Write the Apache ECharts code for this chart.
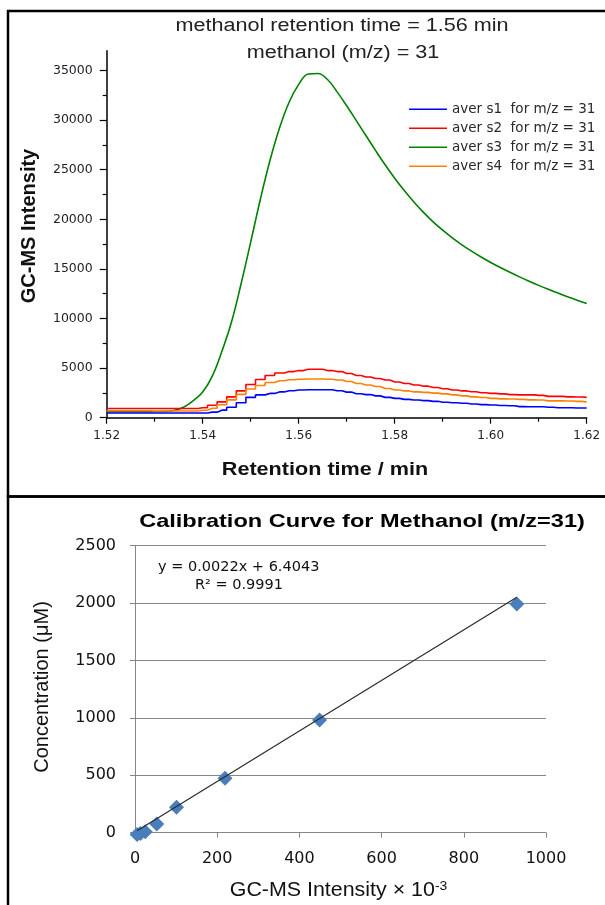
<!DOCTYPE html>
<html>
<head>
<meta charset="utf-8">
<title>Methanol GC-MS</title>
<script src="https://cdn.jsdelivr.net/npm/echarts@6/dist/echarts.min.js"></script>
<style>
  html, body { margin: 0; padding: 0; background: #fff; }
  #chart { width: 605px; height: 905px; }
</style>
</head>
<body>
<div id="chart"></div>
<script>
// ---- chromatogram (m/z = 31) ----
const retentionTimes = [1.520, 1.522, 1.524, 1.526, 1.528, 1.530, 1.532, 1.534, 1.536, 1.538,
  1.540, 1.542, 1.544, 1.546, 1.548, 1.550, 1.552, 1.554, 1.556, 1.558,
  1.560, 1.562, 1.564, 1.566, 1.568, 1.570, 1.572, 1.574, 1.576, 1.578,
  1.580, 1.582, 1.584, 1.586, 1.588, 1.590, 1.592, 1.594, 1.596, 1.598,
  1.600, 1.602, 1.604, 1.606, 1.608, 1.610, 1.612, 1.614, 1.616, 1.618, 1.620];

const averS1 = [480, 480, 480, 480, 480, 480, 480, 480, 480, 480,
  480, 560, 760, 1050, 1500, 2050, 2300, 2450, 2600, 2720,
  2800, 2820, 2820, 2820, 2720, 2580, 2420, 2330, 2200, 2050,
  1950, 1850, 1780, 1720, 1650, 1560, 1500, 1450, 1380, 1320,
  1280, 1230, 1200, 1120, 1110, 1100, 1050, 1000, 1000, 980, 980];

const averS2 = [920, 920, 920, 920, 920, 920, 920, 920, 920, 920,
  1000, 1250, 1600, 2100, 2700, 3350, 3850, 4250, 4500, 4650,
  4750, 4880, 4880, 4750, 4650, 4450, 4260, 4100, 3950, 3800,
  3600, 3450, 3300, 3180, 3050, 2920, 2800, 2700, 2620, 2520,
  2450, 2400, 2330, 2300, 2300, 2250, 2150, 2150, 2100, 2080, 2050];

const averS3 = [600, 600, 600, 600, 600, 620, 640, 720, 1050, 1700,
  2600, 4200, 6700, 9650, 13500, 17700, 22000, 25900, 29200, 31800,
  33600, 34650, 34700, 34100, 32850, 31450, 29950, 28450, 26950, 25500,
  24150, 22900, 21750, 20700, 19750, 18900, 18130, 17430, 16790, 16200,
  15650, 15140, 14660, 14200, 13760, 13340, 12940, 12560, 12200, 11850, 11520];

const averS4 = [700, 700, 700, 700, 700, 680, 680, 680, 680, 680,
  750, 950, 1300, 1800, 2350, 2900, 3250, 3550, 3720, 3820,
  3880, 3900, 3900, 3880, 3800, 3650, 3450, 3300, 3150, 2950,
  2800, 2700, 2600, 2550, 2480, 2400, 2300, 2200, 2100, 2030,
  1950, 1900, 1880, 1850, 1800, 1780, 1700, 1700, 1680, 1650, 1580];

const seriesNames = ['aver s1  for m/z = 31', 'aver s2  for m/z = 31',
  'aver s3  for m/z = 31', 'aver s4  for m/z = 31'];

const timeMajorTicks = [1.52, 1.54, 1.56, 1.58, 1.60, 1.62];
const timeMinorTicks = [1.53, 1.55, 1.57, 1.59, 1.61];
const intensityMajorTicks = [0, 5000, 10000, 15000, 20000, 25000, 30000, 35000];
const intensityMinorTicks = [2500, 7500, 12500, 17500, 22500, 27500, 32500];

// ---- calibration curve ----
const calIntensity = [5, 13, 25, 53, 101, 219, 449, 929];        // GC-MS intensity x 10^-3
const calConcentration = [-15, -8, 8, 76, 222, 474, 982, 1992];   // µM
const trendSlope = 0.0022;       // per raw intensity unit
const trendIntercept = 6.4043;
const trendLabel = 'y = 0.0022x + 6.4043';
const r2Label = 'R² = 0.9991';

// trendline endpoints from the fitted equation (x axis is in thousands)
const xLo = Math.min(...calIntensity), xHi = Math.max(...calIntensity);
const trendData = [
  [xLo, trendSlope * xLo * 1000 + trendIntercept],
  [xHi, trendSlope * xHi * 1000 + trendIntercept]
];

const pair = (xs, ys) => xs.map((x, i) => [x, ys[i]]);
const plain = v => String(v);

const tickFont = 'DejaVu Sans';
const textDark = '#1e1e28';
const excelGray = '#868686';

const chart = echarts.init(document.getElementById('chart'), null, { renderer: 'canvas' });

const option = {
  animation: false,
  backgroundColor: '#fff',
  grid: [
    { left: 106.7, top: 50.7, width: 480, height: 367 },
    { left: 135, top: 545.7, width: 411, height: 287 }
  ],
  legend: {
    data: seriesNames,
    orient: 'vertical',
    left: 409,
    top: 101.3,
    icon: 'rect',
    itemWidth: 38,
    itemHeight: 1.6,
    itemGap: 3,
    padding: 0,
    textStyle: { fontFamily: tickFont, fontSize: 13.5, lineHeight: 16, color: '#2a2a2a' }
  },
  xAxis: [
    {
      gridIndex: 0, type: 'value', min: 1.52, max: 1.62,
      axisLine: { show: true, onZero: false, lineStyle: { color: '#000', width: 1.5 } },
      axisTick: { show: true, customValues: timeMajorTicks, length: 6, lineStyle: { color: '#000', width: 1.2 } },
      axisLabel: {
        customValues: timeMajorTicks, margin: 12,
        formatter: v => v.toFixed(2),
        fontFamily: tickFont, fontSize: 12, color: textDark
      },
      splitLine: { show: false }
    },
    {
      gridIndex: 0, type: 'value', min: 1.52, max: 1.62, position: 'bottom',
      axisLine: { show: false },
      axisTick: { show: true, customValues: timeMinorTicks, length: 4, lineStyle: { color: '#000', width: 1.2 } },
      axisLabel: { show: false },
      splitLine: { show: false }
    },
    {
      gridIndex: 1, type: 'value', min: 0, max: 1000, interval: 200,
      axisLine: { show: true, onZero: false, lineStyle: { color: excelGray, width: 1 } },
      axisTick: { show: true, length: 5, lineStyle: { color: excelGray } },
      axisLabel: { margin: 18, formatter: plain, fontFamily: tickFont, fontSize: 16, color: '#111' },
      splitLine: { show: false }
    }
  ],
  yAxis: [
    {
      gridIndex: 0, type: 'value', min: 0, max: 37000,
      axisLine: { show: true, onZero: false, lineStyle: { color: '#000', width: 1.5 } },
      axisTick: { show: true, customValues: intensityMajorTicks, length: 7, lineStyle: { color: '#000', width: 1.2 } },
      axisLabel: { customValues: intensityMajorTicks, margin: 14, formatter: plain,
        fontFamily: tickFont, fontSize: 12.5, color: textDark },
      splitLine: { show: false }
    },
    {
      gridIndex: 0, type: 'value', min: 0, max: 37000, position: 'left',
      axisLine: { show: false },
      axisTick: { show: true, customValues: intensityMinorTicks, length: 4, lineStyle: { color: '#000', width: 1.2 } },
      axisLabel: { show: false },
      splitLine: { show: false }
    },
    {
      gridIndex: 1, type: 'value', min: 0, max: 2500, interval: 500,
      axisLine: { show: true, lineStyle: { color: excelGray, width: 1 } },
      axisTick: { show: true, length: 5, lineStyle: { color: excelGray } },
      axisLabel: { margin: 19, formatter: plain, fontFamily: tickFont, fontSize: 16, color: '#111' },
      splitLine: { show: true, lineStyle: { color: excelGray, width: 1 } }
    }
  ],
  series: [
    {
      name: seriesNames[0], type: 'line', xAxisIndex: 0, yAxisIndex: 0,
      data: pair(retentionTimes, averS1), step: 'middle', showSymbol: false,
      lineStyle: { color: '#0000ff', width: 1.6 }, itemStyle: { color: '#0000ff' }, z: 3
    },
    {
      name: seriesNames[1], type: 'line', xAxisIndex: 0, yAxisIndex: 0,
      data: pair(retentionTimes, averS2), step: 'middle', showSymbol: false,
      lineStyle: { color: '#ff0000', width: 1.6 }, itemStyle: { color: '#ff0000' }, z: 3
    },
    {
      name: seriesNames[2], type: 'line', xAxisIndex: 0, yAxisIndex: 0,
      data: pair(retentionTimes, averS3), smooth: 0.4, showSymbol: false,
      lineStyle: { color: '#008000', width: 1.6 }, itemStyle: { color: '#008000' }, z: 2
    },
    {
      name: seriesNames[3], type: 'line', xAxisIndex: 0, yAxisIndex: 0,
      data: pair(retentionTimes, averS4), step: 'middle', showSymbol: false,
      lineStyle: { color: '#ff8000', width: 1.6 }, itemStyle: { color: '#ff8000' }, z: 3
    },
    {
      name: 'trend', type: 'line', xAxisIndex: 2, yAxisIndex: 2,
      data: trendData, showSymbol: false, z: 4,
      lineStyle: { color: '#2b2b2b', width: 1.2 }
    },
    {
      name: 'calibration', type: 'scatter', xAxisIndex: 2, yAxisIndex: 2, clip: false,
      data: pair(calIntensity, calConcentration), symbol: 'diamond', symbolSize: 15, z: 3,
      itemStyle: { color: '#4a7ebb', opacity: 1 }
    }
  ],
  graphic: [
    // panel frames
    { type: 'rect', shape: { x: 8, y: 11, width: 610, height: 485.5 },
      style: { fill: 'none', stroke: '#000', lineWidth: 2.5 }, z: 10 },
    { type: 'rect', shape: { x: 8, y: 496.5, width: 610, height: 420 },
      style: { fill: 'none', stroke: '#000', lineWidth: 2.5 }, z: 10 },
    // chromatogram titles
    { type: 'text', x: 342, y: 26, scaleX: 1.2,
      style: { text: 'methanol retention time = 1.56 min', font: '18px "Liberation Sans"',
        fill: '#222', align: 'center', verticalAlign: 'middle' } },
    { type: 'text', x: 343, y: 53, scaleX: 1.2,
      style: { text: 'methanol (m/z) = 31', font: '18px "Liberation Sans"',
        fill: '#222', align: 'center', verticalAlign: 'middle' } },
    { type: 'text', x: 325, y: 470, scaleX: 1.2,
      style: { text: 'Retention time / min', font: 'bold 18px "Liberation Sans"',
        fill: '#111', align: 'center', verticalAlign: 'middle' } },
    { type: 'text', x: 29, y: 226, rotation: Math.PI / 2,
      style: { text: 'GC-MS Intensity', font: 'bold 20px "Liberation Sans"',
        fill: '#111', align: 'center', verticalAlign: 'middle' } },
    // calibration titles
    { type: 'text', x: 362, y: 522, scaleX: 1.24,
      style: { text: 'Calibration Curve for Methanol (m/z=31)', font: 'bold 19px "Liberation Sans"',
        fill: '#000', align: 'center', verticalAlign: 'middle' } },
    { type: 'text', x: 42, y: 687, rotation: Math.PI / 2,
      style: { text: 'Concentration (μM)', font: '20px "Liberation Sans"',
        fill: '#111', align: 'center', verticalAlign: 'middle' } },
    { type: 'text', x: 338.5, y: 890, scaleX: 1.07,
      style: { text: 'GC-MS Intensity × 10{sup|-3}', font: '20px "Liberation Sans"',
        fill: '#111', align: 'center', verticalAlign: 'middle',
        rich: { sup: { font: '13px "Liberation Sans"', fill: '#111', verticalAlign: 'top', padding: [0, 0, 8, 0] } } } },
    { type: 'text', x: 158, y: 567,
      style: { text: trendLabel, font: '14.5px "DejaVu Sans"', fill: '#111', align: 'left', verticalAlign: 'middle' } },
    { type: 'text', x: 195, y: 585,
      style: { text: r2Label, font: '14.5px "DejaVu Sans"', fill: '#111', align: 'left', verticalAlign: 'middle' } }
  ]
};

chart.setOption(option);
</script>
</body>
</html>
